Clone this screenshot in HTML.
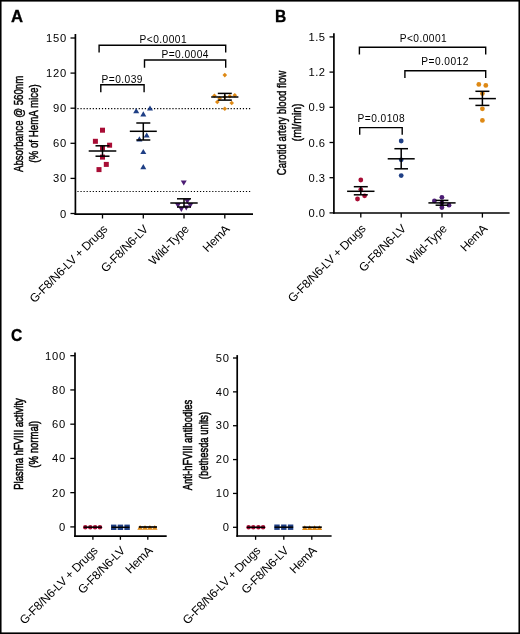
<!DOCTYPE html>
<html><head><meta charset="utf-8"><style>
html,body{margin:0;padding:0;background:#fff;}
svg{display:block;will-change:transform;}
text{font-family:"Liberation Sans", sans-serif;fill:#000;}
</style></head><body>
<svg width="520" height="634" viewBox="0 0 520 634">
<rect width="520" height="634" fill="#fff"/>
<text transform="translate(10.9,21.8) scale(1.07,1)" font-size="15.6" font-weight="bold" stroke="#000" stroke-width="0.3">A</text>
<line x1="75.4" y1="34.0" x2="75.4" y2="214.95" stroke="#000" stroke-width="1.7" />
<line x1="74.55000000000001" y1="214.1" x2="253" y2="214.1" stroke="#000" stroke-width="1.7" />
<line x1="70.5" y1="38.0" x2="75.4" y2="38.0" stroke="#000" stroke-width="1.3" />
<text x="67.0" y="42.0" font-size="11.2" text-anchor="end" letter-spacing="0.8" font-weight="normal" >150</text>
<line x1="70.5" y1="73.1" x2="75.4" y2="73.1" stroke="#000" stroke-width="1.3" />
<text x="67.0" y="77.1" font-size="11.2" text-anchor="end" letter-spacing="0.8" font-weight="normal" >120</text>
<line x1="70.5" y1="108.2" x2="75.4" y2="108.2" stroke="#000" stroke-width="1.3" />
<text x="67.0" y="112.2" font-size="11.2" text-anchor="end" letter-spacing="0.8" font-weight="normal" >90</text>
<line x1="70.5" y1="143.3" x2="75.4" y2="143.3" stroke="#000" stroke-width="1.3" />
<text x="67.0" y="147.3" font-size="11.2" text-anchor="end" letter-spacing="0.8" font-weight="normal" >60</text>
<line x1="70.5" y1="178.4" x2="75.4" y2="178.4" stroke="#000" stroke-width="1.3" />
<text x="67.0" y="182.4" font-size="11.2" text-anchor="end" letter-spacing="0.8" font-weight="normal" >30</text>
<line x1="70.5" y1="213.5" x2="75.4" y2="213.5" stroke="#000" stroke-width="1.3" />
<text x="67.0" y="217.5" font-size="11.2" text-anchor="end" letter-spacing="0.8" font-weight="normal" >0</text>
<line x1="102.5" y1="214.1" x2="102.5" y2="218.5" stroke="#000" stroke-width="1.3" />
<line x1="143.3" y1="214.1" x2="143.3" y2="218.5" stroke="#000" stroke-width="1.3" />
<line x1="184" y1="214.1" x2="184" y2="218.5" stroke="#000" stroke-width="1.3" />
<line x1="224.8" y1="214.1" x2="224.8" y2="218.5" stroke="#000" stroke-width="1.3" />
<line x1="77.4" y1="108.6" x2="250.3" y2="108.6" stroke="#000" stroke-width="1.15" stroke-dasharray="1.2 1.864"/>
<line x1="77.4" y1="191.5" x2="250.3" y2="191.5" stroke="#000" stroke-width="1.15" stroke-dasharray="1.2 1.864"/>
<polyline points="99.1,52.6 99.1,45.2 225.7,45.2 225.7,52.6" fill="none" stroke="#000" stroke-width="1.4"/>
<polyline points="144.5,67.7 144.5,60.0 225.7,60.0 225.7,67.7" fill="none" stroke="#000" stroke-width="1.4"/>
<polyline points="100.8,92.3 100.8,84.8 144.1,84.8 144.1,92.3" fill="none" stroke="#000" stroke-width="1.4"/>
<text x="139.5" y="43.3" font-size="10.2" text-anchor="start" letter-spacing="0.45" font-weight="normal" >P&lt;0.0001</text>
<text x="161.4" y="57.8" font-size="10.2" text-anchor="start" letter-spacing="0.45" font-weight="normal" >P=0.0004</text>
<text x="101.5" y="82.8" font-size="10.2" text-anchor="start" letter-spacing="0.45" font-weight="normal" >P=0.039</text>
<rect x="100.0" y="127.69999999999999" width="5" height="5" fill="#A80D35"/>
<rect x="92.9" y="138.8" width="5" height="5" fill="#A80D35"/>
<rect x="107.1" y="142.7" width="5" height="5" fill="#A80D35"/>
<rect x="100.0" y="145.5" width="5" height="5" fill="#A80D35"/>
<rect x="100.0" y="154.6" width="5" height="5" fill="#A80D35"/>
<rect x="103.8" y="161.9" width="5" height="5" fill="#A80D35"/>
<rect x="96.5" y="167.1" width="5" height="5" fill="#A80D35"/>
<line x1="88.7" y1="151" x2="116.3" y2="151" stroke="#000" stroke-width="1.5" />
<line x1="102.5" y1="145.8" x2="102.5" y2="156.2" stroke="#000" stroke-width="1.5" />
<line x1="95.5" y1="145.8" x2="109.5" y2="145.8" stroke="#000" stroke-width="1.5" />
<line x1="95.5" y1="156.2" x2="109.5" y2="156.2" stroke="#000" stroke-width="1.5" />
<polygon points="133.2,113.198 139.2,113.198 136.2,108.002" fill="#1F3F85"/>
<polygon points="147.0,110.598 153.0,110.598 150,105.402" fill="#1F3F85"/>
<polygon points="140.3,116.398 146.3,116.398 143.3,111.202" fill="#1F3F85"/>
<polygon points="143.7,137.598 149.7,137.598 146.7,132.402" fill="#1F3F85"/>
<polygon points="136.4,141.39800000000002 142.4,141.39800000000002 139.4,136.202" fill="#1F3F85"/>
<polygon points="140.3,154.098 146.3,154.098 143.3,148.902" fill="#1F3F85"/>
<polygon points="140.3,169.298 146.3,169.298 143.3,164.10199999999998" fill="#1F3F85"/>
<line x1="129.8" y1="131.3" x2="156.8" y2="131.3" stroke="#000" stroke-width="1.5" />
<line x1="143.3" y1="123" x2="143.3" y2="140" stroke="#000" stroke-width="1.5" />
<line x1="136.3" y1="123" x2="150.3" y2="123" stroke="#000" stroke-width="1.5" />
<line x1="136.3" y1="140" x2="150.3" y2="140" stroke="#000" stroke-width="1.5" />
<polygon points="180.75,180.402 186.75,180.402 183.75,185.598" fill="#4C1D74"/>
<polygon points="184.3,198.902 190.3,198.902 187.3,204.098" fill="#4C1D74"/>
<polygon points="174.9,202.902 180.9,202.902 177.9,208.098" fill="#4C1D74"/>
<polygon points="178.35,206.702 184.35,206.702 181.35,211.89800000000002" fill="#4C1D74"/>
<polygon points="183.25,205.402 189.25,205.402 186.25,210.598" fill="#4C1D74"/>
<polygon points="187.3,202.902 193.3,202.902 190.3,208.098" fill="#4C1D74"/>
<line x1="170.3" y1="203" x2="197.7" y2="203" stroke="#000" stroke-width="1.5" />
<line x1="184" y1="198.8" x2="184" y2="207" stroke="#000" stroke-width="1.5" />
<line x1="177" y1="198.8" x2="191" y2="198.8" stroke="#000" stroke-width="1.5" />
<line x1="177" y1="207" x2="191" y2="207" stroke="#000" stroke-width="1.5" />
<polygon points="224.8,72.8 227.10000000000002,75.1 224.8,77.39999999999999 222.5,75.1" fill="#DE8915"/>
<polygon points="214.4,93.5 216.70000000000002,95.8 214.4,98.1 212.1,95.8" fill="#DE8915"/>
<polygon points="219.7,95.9 222.0,98.2 219.7,100.5 217.39999999999998,98.2" fill="#DE8915"/>
<polygon points="229.8,93.95 232.10000000000002,96.25 229.8,98.55 227.5,96.25" fill="#DE8915"/>
<polygon points="234.8,93.0 237.10000000000002,95.3 234.8,97.6 232.5,95.3" fill="#DE8915"/>
<polygon points="217.3,99.7 219.60000000000002,102 217.3,104.3 215.0,102" fill="#DE8915"/>
<polygon points="231.7,100.7 234.0,103 231.7,105.3 229.39999999999998,103" fill="#DE8915"/>
<polygon points="224.8,106.45 227.10000000000002,108.75 224.8,111.05 222.5,108.75" fill="#DE8915"/>
<polygon points="224.8,94.7 227.10000000000002,97 224.8,99.3 222.5,97" fill="#DE8915"/>
<line x1="211.20000000000002" y1="97" x2="238.4" y2="97" stroke="#000" stroke-width="1.5" />
<line x1="224.8" y1="93.4" x2="224.8" y2="100.1" stroke="#000" stroke-width="1.5" />
<line x1="217.8" y1="93.4" x2="231.8" y2="93.4" stroke="#000" stroke-width="1.5" />
<line x1="217.8" y1="100.1" x2="231.8" y2="100.1" stroke="#000" stroke-width="1.5" />
<text transform="translate(22.6,123.9) rotate(-90) scale(0.7167,1)" x="0" y="0" font-size="13.5" text-anchor="middle" stroke="#000" stroke-width="0.45">Absorbance @ 560nm</text>
<text transform="translate(37.6,123.5) rotate(-90) scale(0.7210,1)" x="0" y="0" font-size="13.5" text-anchor="middle" stroke="#000" stroke-width="0.45">(% of HemA mice)</text>
<text transform="translate(108,230) rotate(-45)" font-size="12" text-anchor="end" letter-spacing="-0.3">G-F8/N6-LV + Drugs</text>
<text transform="translate(148.8,230) rotate(-45)" font-size="12" text-anchor="end" letter-spacing="-0.3">G-F8/N6-LV</text>
<text transform="translate(189.5,230) rotate(-45)" font-size="12" text-anchor="end" letter-spacing="-0.3">Wild-Type</text>
<text transform="translate(230.3,230) rotate(-45)" font-size="12" text-anchor="end" letter-spacing="-0.3">HemA</text>
<text transform="translate(274.9,21.9) scale(1.0,1)" font-size="15.6" font-weight="bold" stroke="#000" stroke-width="0.3">B</text>
<line x1="333.9" y1="33.3" x2="333.9" y2="213.85" stroke="#000" stroke-width="1.7" />
<line x1="333.04999999999995" y1="213.0" x2="509.6" y2="213.0" stroke="#000" stroke-width="1.7" />
<line x1="329.5" y1="36.9" x2="333.9" y2="36.9" stroke="#000" stroke-width="1.3" />
<text x="325.6" y="40.9" font-size="11.2" text-anchor="end" letter-spacing="0.5" font-weight="normal" >1.5</text>
<line x1="329.5" y1="72.1" x2="333.9" y2="72.1" stroke="#000" stroke-width="1.3" />
<text x="325.6" y="76.1" font-size="11.2" text-anchor="end" letter-spacing="0.5" font-weight="normal" >1.2</text>
<line x1="329.5" y1="107.30000000000001" x2="333.9" y2="107.30000000000001" stroke="#000" stroke-width="1.3" />
<text x="325.6" y="111.30000000000001" font-size="11.2" text-anchor="end" letter-spacing="0.5" font-weight="normal" >0.9</text>
<line x1="329.5" y1="142.5" x2="333.9" y2="142.5" stroke="#000" stroke-width="1.3" />
<text x="325.6" y="146.5" font-size="11.2" text-anchor="end" letter-spacing="0.5" font-weight="normal" >0.6</text>
<line x1="329.5" y1="177.70000000000002" x2="333.9" y2="177.70000000000002" stroke="#000" stroke-width="1.3" />
<text x="325.6" y="181.70000000000002" font-size="11.2" text-anchor="end" letter-spacing="0.5" font-weight="normal" >0.3</text>
<line x1="329.5" y1="212.9" x2="333.9" y2="212.9" stroke="#000" stroke-width="1.3" />
<text x="325.6" y="216.9" font-size="11.2" text-anchor="end" letter-spacing="0.5" font-weight="normal" >0.0</text>
<line x1="360.8" y1="213.0" x2="360.8" y2="217.6" stroke="#000" stroke-width="1.3" />
<line x1="401.2" y1="213.0" x2="401.2" y2="217.6" stroke="#000" stroke-width="1.3" />
<line x1="442" y1="213.0" x2="442" y2="217.6" stroke="#000" stroke-width="1.3" />
<line x1="482.4" y1="213.0" x2="482.4" y2="217.6" stroke="#000" stroke-width="1.3" />
<polyline points="359.4,54.5 359.4,47.2 485.7,47.2 485.7,54.5" fill="none" stroke="#000" stroke-width="1.4"/>
<polyline points="404.9,78.0 404.9,70.8 485.7,70.8 485.7,78.0" fill="none" stroke="#000" stroke-width="1.4"/>
<polyline points="359.7,134.7 359.7,127.6 402.2,127.6 402.2,134.7" fill="none" stroke="#000" stroke-width="1.4"/>
<text x="399.7" y="42.3" font-size="10.2" text-anchor="start" letter-spacing="0.45" font-weight="normal" >P&lt;0.0001</text>
<text x="421.3" y="64.6" font-size="10.2" text-anchor="start" letter-spacing="0.45" font-weight="normal" >P=0.0012</text>
<text x="357.5" y="122.4" font-size="10.2" text-anchor="start" letter-spacing="0.45" font-weight="normal" >P=0.0108</text>
<circle cx="360.8" cy="180" r="2.4" fill="#A80D35"/>
<circle cx="364.6" cy="195.8" r="2.4" fill="#A80D35"/>
<circle cx="357.5" cy="199" r="2.4" fill="#A80D35"/>
<circle cx="360.8" cy="189.6" r="2.4" fill="#A80D35"/>
<line x1="347.1" y1="191.3" x2="374.5" y2="191.3" stroke="#000" stroke-width="1.5" />
<line x1="360.8" y1="186.7" x2="360.8" y2="194.8" stroke="#000" stroke-width="1.5" />
<line x1="353.8" y1="186.7" x2="367.8" y2="186.7" stroke="#000" stroke-width="1.5" />
<line x1="353.8" y1="194.8" x2="367.8" y2="194.8" stroke="#000" stroke-width="1.5" />
<circle cx="401.2" cy="141" r="2.4" fill="#1F3F85"/>
<circle cx="401.2" cy="159.8" r="2.4" fill="#1F3F85"/>
<circle cx="401.2" cy="175.6" r="2.4" fill="#1F3F85"/>
<line x1="387.7" y1="158.8" x2="414.7" y2="158.8" stroke="#000" stroke-width="1.5" />
<line x1="401.2" y1="148.7" x2="401.2" y2="168.8" stroke="#000" stroke-width="1.5" />
<line x1="394.4" y1="148.7" x2="408.0" y2="148.7" stroke="#000" stroke-width="1.5" />
<line x1="394.4" y1="168.8" x2="408.0" y2="168.8" stroke="#000" stroke-width="1.5" />
<circle cx="441.9" cy="197.3" r="2.4" fill="#4C1D74"/>
<circle cx="434.4" cy="200.9" r="2.4" fill="#4C1D74"/>
<circle cx="449" cy="205.2" r="2.4" fill="#4C1D74"/>
<circle cx="441.9" cy="207.5" r="2.4" fill="#4C1D74"/>
<circle cx="441.9" cy="203" r="2.4" fill="#4C1D74"/>
<line x1="428.4" y1="202.9" x2="455.6" y2="202.9" stroke="#000" stroke-width="1.5" />
<line x1="442" y1="200.4" x2="442" y2="205.2" stroke="#000" stroke-width="1.5" />
<line x1="435.6" y1="200.4" x2="448.4" y2="200.4" stroke="#000" stroke-width="1.5" />
<line x1="435.6" y1="205.2" x2="448.4" y2="205.2" stroke="#000" stroke-width="1.5" />
<circle cx="478.8" cy="84.4" r="2.4" fill="#DE8915"/>
<circle cx="485.8" cy="85.4" r="2.4" fill="#DE8915"/>
<circle cx="482.4" cy="93.6" r="2.4" fill="#DE8915"/>
<circle cx="482.4" cy="108.8" r="2.4" fill="#DE8915"/>
<circle cx="482.4" cy="120.4" r="2.4" fill="#DE8915"/>
<line x1="468.9" y1="98.6" x2="495.9" y2="98.6" stroke="#000" stroke-width="1.5" />
<line x1="482.4" y1="91.3" x2="482.4" y2="105.4" stroke="#000" stroke-width="1.5" />
<line x1="475.4" y1="91.3" x2="489.4" y2="91.3" stroke="#000" stroke-width="1.5" />
<line x1="475.4" y1="105.4" x2="489.4" y2="105.4" stroke="#000" stroke-width="1.5" />
<text transform="translate(286.0,123.0) rotate(-90) scale(0.7150,1)" x="0" y="0" font-size="13.5" text-anchor="middle" stroke="#000" stroke-width="0.45">Carotid artery blood flow</text>
<text transform="translate(300.8,122.4) rotate(-90) scale(0.7793,1)" x="0" y="0" font-size="13.5" text-anchor="middle" stroke="#000" stroke-width="0.45">(ml/min)</text>
<text transform="translate(366.3,229.5) rotate(-45)" font-size="12" text-anchor="end" letter-spacing="-0.3">G-F8/N6-LV + Drugs</text>
<text transform="translate(406.7,229.5) rotate(-45)" font-size="12" text-anchor="end" letter-spacing="-0.3">G-F8/N6-LV</text>
<text transform="translate(447.5,229.5) rotate(-45)" font-size="12" text-anchor="end" letter-spacing="-0.3">Wild-Type</text>
<text transform="translate(487.9,229.5) rotate(-45)" font-size="12" text-anchor="end" letter-spacing="-0.3">HemA</text>
<text transform="translate(10.9,341.2) scale(1.0,1)" font-size="15.6" font-weight="bold" stroke="#000" stroke-width="0.3">C</text>
<line x1="75.0" y1="352.6" x2="75.0" y2="537.0500000000001" stroke="#000" stroke-width="1.7" />
<line x1="74.15" y1="536.2" x2="166.7" y2="536.2" stroke="#000" stroke-width="1.7" />
<line x1="70.3" y1="355.7" x2="75.0" y2="355.7" stroke="#000" stroke-width="1.3" />
<text x="66.1" y="359.7" font-size="11.2" text-anchor="end" letter-spacing="0.8" font-weight="normal" >100</text>
<line x1="70.3" y1="389.94" x2="75.0" y2="389.94" stroke="#000" stroke-width="1.3" />
<text x="66.1" y="393.94" font-size="11.2" text-anchor="end" letter-spacing="0.8" font-weight="normal" >80</text>
<line x1="70.3" y1="424.18" x2="75.0" y2="424.18" stroke="#000" stroke-width="1.3" />
<text x="66.1" y="428.18" font-size="11.2" text-anchor="end" letter-spacing="0.8" font-weight="normal" >60</text>
<line x1="70.3" y1="458.41999999999996" x2="75.0" y2="458.41999999999996" stroke="#000" stroke-width="1.3" />
<text x="66.1" y="462.41999999999996" font-size="11.2" text-anchor="end" letter-spacing="0.8" font-weight="normal" >40</text>
<line x1="70.3" y1="492.65999999999997" x2="75.0" y2="492.65999999999997" stroke="#000" stroke-width="1.3" />
<text x="66.1" y="496.65999999999997" font-size="11.2" text-anchor="end" letter-spacing="0.8" font-weight="normal" >20</text>
<line x1="70.3" y1="526.9" x2="75.0" y2="526.9" stroke="#000" stroke-width="1.3" />
<text x="66.1" y="530.9" font-size="11.2" text-anchor="end" letter-spacing="0.8" font-weight="normal" >0</text>
<line x1="92.9" y1="536.2" x2="92.9" y2="539.8" stroke="#000" stroke-width="1.3" />
<line x1="120.4" y1="536.2" x2="120.4" y2="539.8" stroke="#000" stroke-width="1.3" />
<line x1="147.8" y1="536.2" x2="147.8" y2="539.8" stroke="#000" stroke-width="1.3" />
<circle cx="85.3" cy="527.2" r="2.3" fill="#A80D35"/>
<circle cx="90.3" cy="527.2" r="2.3" fill="#A80D35"/>
<circle cx="95.1" cy="527.2" r="2.3" fill="#A80D35"/>
<circle cx="99.9" cy="527.2" r="2.3" fill="#A80D35"/>
<line x1="83.8" y1="527.2" x2="101.9" y2="527.2" stroke="#000" stroke-width="1.5" />
<rect x="111.0" y="524.5999999999999" width="5.4" height="5.4" fill="#1F3F85"/>
<rect x="117.7" y="524.5999999999999" width="5.4" height="5.4" fill="#1F3F85"/>
<rect x="124.39999999999999" y="524.5999999999999" width="5.4" height="5.4" fill="#1F3F85"/>
<line x1="111.5" y1="527.3" x2="129.5" y2="527.3" stroke="#000" stroke-width="1.5" />
<polygon points="137.29999999999998,529.8248 142.9,529.8248 140.1,524.9752" fill="#DE8915"/>
<polygon points="142.2,529.8248 147.8,529.8248 145.0,524.9752" fill="#DE8915"/>
<polygon points="147.1,529.8248 152.70000000000002,529.8248 149.9,524.9752" fill="#DE8915"/>
<polygon points="152.0,529.8248 157.60000000000002,529.8248 154.8,524.9752" fill="#DE8915"/>
<line x1="138.8" y1="527.0" x2="157" y2="527.0" stroke="#000" stroke-width="1.7" />
<text transform="translate(22.9,444.0) rotate(-90) scale(0.7066,1)" x="0" y="0" font-size="13.5" text-anchor="middle" stroke="#000" stroke-width="0.55">Plasma hFVIII activity</text>
<text transform="translate(37.8,444.3) rotate(-90) scale(0.7092,1)" x="0" y="0" font-size="13.5" text-anchor="middle" stroke="#000" stroke-width="0.55">(% normal)</text>
<text transform="translate(98.2,551.5) rotate(-45)" font-size="12" text-anchor="end" letter-spacing="-0.3">G-F8/N6-LV + Drugs</text>
<text transform="translate(125.7,551.5) rotate(-45)" font-size="12" text-anchor="end" letter-spacing="-0.3">G-F8/N6-LV</text>
<text transform="translate(153.1,551.5) rotate(-45)" font-size="12" text-anchor="end" letter-spacing="-0.3">HemA</text>
<line x1="237.2" y1="355.1" x2="237.2" y2="536.85" stroke="#000" stroke-width="1.7" />
<line x1="236.35" y1="536.0" x2="331.6" y2="536.0" stroke="#000" stroke-width="1.7" />
<line x1="233.0" y1="358.0" x2="237.2" y2="358.0" stroke="#000" stroke-width="1.3" />
<text x="229.9" y="361.7" font-size="11.2" text-anchor="end" letter-spacing="0.8" font-weight="normal" >50</text>
<line x1="233.0" y1="391.86" x2="237.2" y2="391.86" stroke="#000" stroke-width="1.3" />
<text x="229.9" y="395.56" font-size="11.2" text-anchor="end" letter-spacing="0.8" font-weight="normal" >40</text>
<line x1="233.0" y1="425.72" x2="237.2" y2="425.72" stroke="#000" stroke-width="1.3" />
<text x="229.9" y="429.42" font-size="11.2" text-anchor="end" letter-spacing="0.8" font-weight="normal" >30</text>
<line x1="233.0" y1="459.58" x2="237.2" y2="459.58" stroke="#000" stroke-width="1.3" />
<text x="229.9" y="463.28" font-size="11.2" text-anchor="end" letter-spacing="0.8" font-weight="normal" >20</text>
<line x1="233.0" y1="493.44" x2="237.2" y2="493.44" stroke="#000" stroke-width="1.3" />
<text x="229.9" y="497.14" font-size="11.2" text-anchor="end" letter-spacing="0.8" font-weight="normal" >10</text>
<line x1="233.0" y1="527.3" x2="237.2" y2="527.3" stroke="#000" stroke-width="1.3" />
<text x="229.9" y="531.0" font-size="11.2" text-anchor="end" letter-spacing="0.8" font-weight="normal" >0</text>
<line x1="255.6" y1="536.0" x2="255.6" y2="539.8" stroke="#000" stroke-width="1.3" />
<line x1="283.8" y1="536.0" x2="283.8" y2="539.8" stroke="#000" stroke-width="1.3" />
<line x1="311.8" y1="536.0" x2="311.8" y2="539.8" stroke="#000" stroke-width="1.3" />
<circle cx="248.6" cy="527.3" r="2.3" fill="#A80D35"/>
<circle cx="253.3" cy="527.3" r="2.3" fill="#A80D35"/>
<circle cx="258.4" cy="527.3" r="2.3" fill="#A80D35"/>
<circle cx="263.1" cy="527.3" r="2.3" fill="#A80D35"/>
<line x1="247" y1="527.3" x2="265" y2="527.3" stroke="#000" stroke-width="1.5" />
<rect x="274.3" y="524.5" width="5.4" height="5.4" fill="#1F3F85"/>
<rect x="281.1" y="524.5" width="5.4" height="5.4" fill="#1F3F85"/>
<rect x="287.90000000000003" y="524.5" width="5.4" height="5.4" fill="#1F3F85"/>
<line x1="274.5" y1="527.2" x2="293.2" y2="527.2" stroke="#000" stroke-width="1.5" />
<polygon points="302.0,530.0248 307.6,530.0248 304.8,525.1752" fill="#DE8915"/>
<polygon points="306.9,530.0248 312.5,530.0248 309.7,525.1752" fill="#DE8915"/>
<polygon points="311.8,530.0248 317.40000000000003,530.0248 314.6,525.1752" fill="#DE8915"/>
<polygon points="316.59999999999997,530.0248 322.2,530.0248 319.4,525.1752" fill="#DE8915"/>
<line x1="302.5" y1="527.2" x2="321.8" y2="527.2" stroke="#000" stroke-width="1.7" />
<text transform="translate(192.2,445.0) rotate(-90) scale(0.7020,1)" x="0" y="0" font-size="13.5" text-anchor="middle" stroke="#000" stroke-width="0.55">Anti-hFVIII antibodies</text>
<text transform="translate(207.6,445.5) rotate(-90) scale(0.6962,1)" x="0" y="0" font-size="13.5" text-anchor="middle" stroke="#000" stroke-width="0.55">(bethesda units)</text>
<text transform="translate(261,551.5) rotate(-45)" font-size="12" text-anchor="end" letter-spacing="-0.3">G-F8/N6-LV + Drugs</text>
<text transform="translate(289.2,551.5) rotate(-45)" font-size="12" text-anchor="end" letter-spacing="-0.3">G-F8/N6-LV</text>
<text transform="translate(317.2,551.5) rotate(-45)" font-size="12" text-anchor="end" letter-spacing="-0.3">HemA</text>
<rect x="0.75" y="0.8" width="518.5" height="632.4" fill="none" stroke="#000" stroke-width="1.6"/>
</svg></body></html>
